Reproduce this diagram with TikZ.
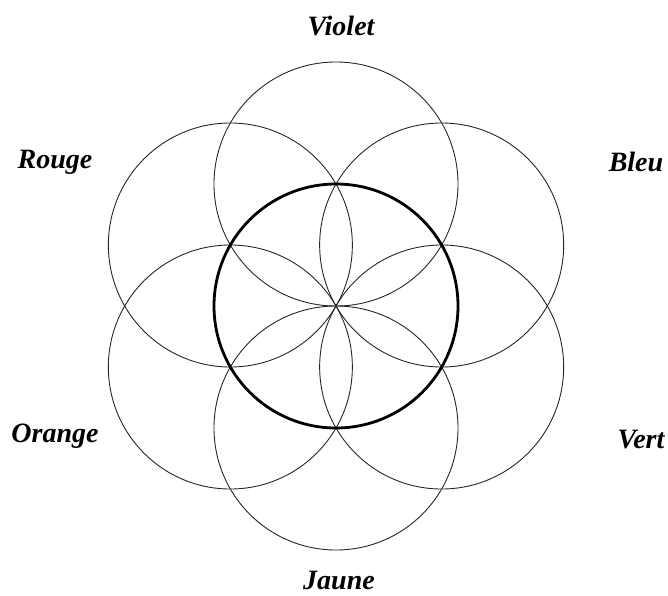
\documentclass[tikz,border=0pt]{standalone}
\usepackage{fontspec}
\setmainfont{Liberation Serif}
\begin{document}
\begin{tikzpicture}[x=1pt,y=-1pt,
  thincircle/.style={draw=black!85,line width=0.9pt},
  thickcircle/.style={draw=black,line width=2.8pt},
  lab/.style={font=\fontsize{28}{30}\selectfont\bfseries\itshape,inner sep=0pt,anchor=center}]
\useasboundingbox (0,0) rectangle (668,595);
\coordinate (c) at (336,306);
\foreach \a in {30,90,150,210,270,330}{
  \draw[thincircle] ([shift={(\a:122)}]c) circle[radius=122];
}
\draw[thickcircle] (c) circle[radius=122];
\node[lab] (violet) at (341,26) {Violet};
\node[lab] (rouge) at (55,162) {Rouge};
\node[lab] (bleu) at (636,162) {Bleu};
\node[lab] (orange) at (55,436) {Orange};
\node[lab] (vert) at (641,440) {Vert};
\node[lab] (jaune) at (339,580) {Jaune};
\end{tikzpicture}
\end{document}
